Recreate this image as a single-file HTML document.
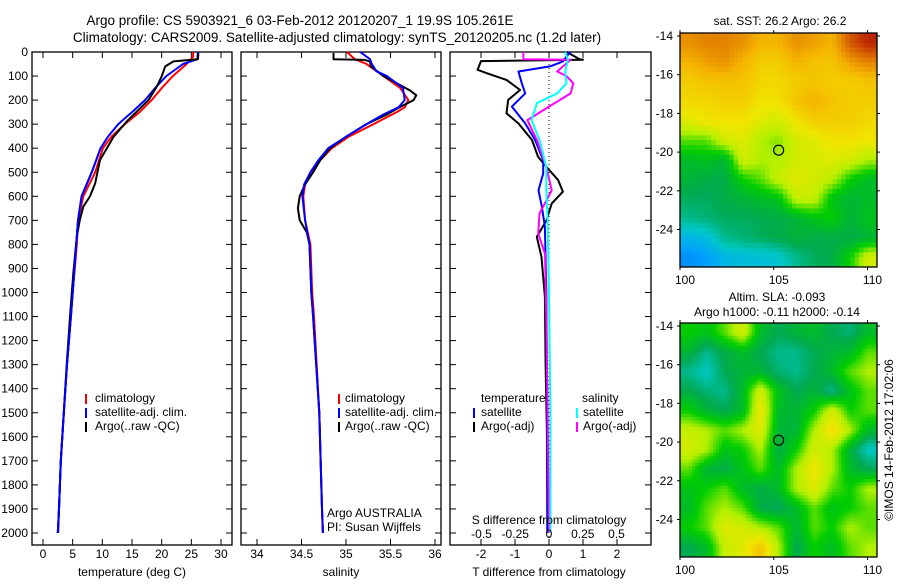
<!DOCTYPE html>
<html><head><meta charset="utf-8"><style>
body{margin:0;background:#fff;width:900px;height:580px;overflow:hidden}
svg{font-family:"Liberation Sans",sans-serif;font-size:12px}
</style></head><body>
<svg id="s" width="900" height="580" xmlns="http://www.w3.org/2000/svg">
<text x="300" y="25" text-anchor="middle" font-size="13.5">Argo profile: CS 5903921_6 03-Feb-2012 20120207_1 19.9S 105.261E</text>
<text x="337" y="42" text-anchor="middle" font-size="13.5">Climatology: CARS2009. Satellite-adjusted climatology: synTS_20120205.nc (1.2d later)</text>
<g id="g"></g>
</svg>
<script>
// ---- data ----
const depthTicks=[0,100,200,300,400,500,600,700,800,900,1000,1100,1200,1300,1400,1500,1600,1700,1800,1900,2000];
const tempTicks=[0,5,10,15,20,25,30];
const salTicks=[34,34.5,35,35.5,36];
const salTickLabels=["34","34.5","35","35.5","36"];
const tdTicks=[-2,-1,0,1,2];
const sdTicks=[-0.5,-0.25,0,0.25,0.5];
const sdTickLabels=["-0.5","-0.25","0","0.25","0.5"];
const tArgoD=[4,30,39,60,101,143,199,289,352,449,546,601,643,699,768,921,1101,1300,1500,1700,1900,2000];
const tArgoV=[26.2,26.1,22.0,20.6,20.0,19.2,17.8,14.1,11.9,9.6,8.8,7.9,6.8,6.2,5.7,5.1,4.55,4.0,3.5,3.0,2.7,2.55];
const tClimD=[0,20,50,100,150,200,250,300,350,400,500,600,700,800,1000,1100,1300,1500,1700,1900,2000];
const tClimV=[25.3,25.3,24.2,21.9,20.0,18.3,16.3,13.8,11.6,10.1,8.8,6.8,5.9,5.7,5.0,4.7,4.05,3.5,3.0,2.7,2.5];
const tSatD=[0,30,50,100,150,200,250,300,350,400,500,600,700,800,1000,1100,1300,1500,1700,1900,2000];
const tSatV=[26.1,26.0,23.6,20.8,18.9,17.2,15.0,12.7,11.0,9.7,8.2,6.5,5.9,5.6,5.0,4.7,4.05,3.5,3.0,2.7,2.5];
const sArgoD=[4,30,33,40,60,100,130,160,180,200,230,260,300,350,400,450,500,550,600,650,700,750,800,1000,1100,1500,1900,2000];
const sArgoV=[34.86,34.86,35.21,35.27,35.28,35.42,35.57,35.72,35.79,35.76,35.6,35.46,35.23,35.01,34.82,34.71,34.63,34.54,34.48,34.46,34.48,34.56,34.59,34.61,34.63,34.7,34.73,34.74];
const sClimD=[0,30,50,100,150,200,230,250,300,350,400,450,500,550,600,700,800,1000,1100,1500,1900,2000];
const sClimV=[35.01,35.1,35.23,35.42,35.61,35.7,35.66,35.57,35.31,35.04,34.84,34.71,34.6,34.54,34.52,34.54,34.6,34.62,34.64,34.7,34.73,34.74];
const sSatD=[0,30,50,80,100,150,200,230,260,300,350,400,450,500,550,600,700,800,1000,1100,1500,1900,2000];
const sSatV=[35.16,35.27,35.29,35.34,35.46,35.64,35.66,35.59,35.42,35.23,35.01,34.8,34.69,34.6,34.53,34.51,34.54,34.59,34.61,34.63,34.7,34.73,34.74];
const dTArgoD=[0,30,32,38,74,88,116,158,199,255,297,366,436,478,533,581,630,699,769,852,1019,1300,1600,2000];
const dTArgoV=[0.52,0.9,1.0,-2.0,-2.1,-1.83,-1.25,-0.85,-1.2,-1.25,-0.9,-0.5,-0.32,-0.07,0.27,0.41,0.08,-0.07,-0.36,-0.22,-0.12,-0.1,-0.06,-0.05];
const dTSatD=[0,40,60,81,130,172,227,297,366,450,505,575,644,727,1000,1500,2000];
const dTSatV=[0.62,0.4,0.03,-0.9,-0.8,-0.7,-1.09,-0.7,-0.41,-0.17,-0.17,-0.31,-0.21,-0.12,-0.08,-0.05,-0.04];
const dSArgoD=[0,30,32,81,100,130,172,227,283,366,478,575,672,755,838,1100,1500,2000];
const dSArgoV=[-0.19,-0.19,0.16,0.06,0.13,0.18,0.16,0.0,-0.16,-0.09,-0.02,0.02,-0.07,-0.08,-0.03,-0.02,-0.01,0.0];
const dSSatD=[0,32,81,130,172,213,283,366,478,575,700,1000,1500,2000];
const dSSatV=[0.12,0.14,0.12,0.13,0.06,-0.09,-0.13,-0.07,-0.02,-0.02,-0.01,0.0,0.01,0.01];
const sstGrid=[
[.8,.82,.82,.8,.75,.75,.8,.78,.75,.88,.95],
[.75,.78,.8,.75,.7,.7,.75,.72,.72,.78,.82],
[.7,.72,.72,.72,.68,.68,.7,.72,.7,.7,.72],
[.68,.68,.7,.7,.66,.66,.72,.75,.72,.7,.7],
[.62,.66,.66,.66,.62,.6,.66,.7,.7,.7,.68],
[.5,.5,.6,.62,.55,.52,.6,.62,.66,.66,.65],
[.4,.42,.38,.6,.55,.55,.6,.6,.62,.6,.55],
[.38,.36,.36,.45,.5,.58,.62,.6,.56,.45,.4],
[.34,.34,.36,.38,.4,.42,.58,.58,.42,.38,.4],
[.3,.32,.34,.34,.35,.36,.38,.42,.45,.38,.42],
[.2,.22,.3,.32,.34,.36,.38,.36,.36,.36,.38],
[.12,.15,.2,.22,.22,.24,.3,.34,.36,.45,.6]];
const slaGrid=[
[.45,.42,.5,.6,.4,.35,.38,.4,.35,.32,.4],
[.38,.3,.36,.4,.35,.3,.3,.35,.38,.4,.5],
[.3,.25,.35,.38,.38,.32,.3,.35,.4,.5,.55],
[.36,.32,.3,.4,.6,.42,.35,.38,.3,.42,.5],
[.45,.38,.35,.4,.65,.4,.38,.45,.6,.45,.5],
[.58,.55,.5,.55,.62,.38,.38,.55,.68,.55,.4],
[.6,.55,.42,.45,.55,.36,.45,.6,.55,.38,.25],
[.5,.38,.36,.42,.5,.4,.55,.65,.55,.4,.35],
[.42,.45,.5,.4,.36,.4,.55,.62,.5,.45,.55],
[.4,.5,.55,.5,.36,.34,.4,.5,.42,.45,.5],
[.45,.5,.62,.6,.55,.5,.38,.5,.45,.55,.5],
[.35,.4,.58,.62,.72,.55,.35,.45,.4,.5,.55]];
const latTicks=[-14,-16,-18,-20,-22,-24];
const lonTicks=[100,105,110];
const argoLon=105.261, argoLat=-19.9;

// ---- drawing ----
const NS='http://www.w3.org/2000/svg';
const G=document.getElementById('g');
function mk(tag,at,parent){const e=document.createElementNS(NS,tag);for(const k in at)e.setAttribute(k,at[k]);(parent||G).appendChild(e);return e;}
const top0=52, bot=545;
const yD=d=>top0+d*0.2405;
function panel(x0,x1,name){
  const r=mk('rect',{x:x0,y:top0,width:x1-x0,height:bot-top0,fill:'none',stroke:'#000','stroke-width':1.3});
  
  
  depthTicks.forEach(d=>{
    const l1=mk('line',{x1:x0,x2:x0+6,y1:yD(d),y2:yD(d),stroke:'#000'});
    
    
    const l2=mk('line',{x1:x1-6,x2:x1,y1:yD(d),y2:yD(d),stroke:'#000'});
    
    
  });
}
function xticks(vals,labels,sx,x0,x1,ylab){
  vals.forEach((v,i)=>{
    const x=sx(v);
    const a=mk('line',{x1:x,x2:x,y1:bot,y2:bot-6,stroke:'#000'});
    
    
    const b=mk('line',{x1:x,x2:x,y1:top0,y2:top0+6,stroke:'#000'});
    
    
    const t=mk('text',{x:x,y:ylab,'text-anchor':'middle'});t.textContent=labels[i];
    
    
  });
}
function line(D,V,sx,col,name,w){
  const p=D.map((d,i)=>sx(V[i]).toFixed(1)+','+yD(d).toFixed(1)).join(' ');
  const e=mk('polyline',{points:p,fill:'none',stroke:col,'stroke-width':w||2,'stroke-linejoin':'round'});
  
  
}
function txt(x,y,s,name,anchor,extra){
  const t=mk('text',Object.assign({x:x,y:y,'text-anchor':anchor||'start'},extra||{}));t.textContent=s;
  
  return t;
}
function legTick(x,y,col){
  const e=mk('line',{x1:x,x2:x,y1:y-9,y2:y+1,stroke:col,'stroke-width':2});
  
  
}
// panel 1
const sxT=v=>43+v*5.933;
panel(32,232,'temperature-panel');
depthTicks.forEach(d=>txt(28,yD(d)+4,String(d),'depth-tick-label','end'));
xticks(tempTicks,tempTicks.map(String),sxT,32,232,558);
line(tClimD,tClimV,sxT,'#f00','temp-climatology-line');
line(tSatD,tSatV,sxT,'#00f','temp-satellite-line');
line(tArgoD,tArgoV,sxT,'#000','temp-argo-line');
line(tSatD.slice(9),tSatV.slice(9),sxT,'#00f','temp-satellite-deep-line');
txt(132,576,'temperature (deg C)','temperature-axis-title','middle');
legTick(86,403,'#f00');txt(95,402,'climatology','legend-climatology');
legTick(86,417,'#00f');txt(95,416,'satellite-adj. clim.','legend-satellite');
legTick(86,431,'#000');txt(95,430,'Argo(..raw -QC)','legend-argo');
// panel 2
const sxS=v=>257+(v-34)*89;
panel(241,441,'salinity-panel');
xticks(salTicks,salTickLabels,sxS,241,441,558);
line(sClimD,sClimV,sxS,'#f00','sal-climatology-line');
line(sArgoD,sArgoV,sxS,'#000','sal-argo-line');
line(sSatD,sSatV,sxS,'#00f','sal-satellite-line');
txt(341,576,'salinity','salinity-axis-title','middle');
legTick(339,403,'#f00');txt(345,402,'climatology','legend-climatology');
legTick(339,417,'#00f');txt(345,416,'satellite-adj. clim.','legend-satellite');
legTick(339,431,'#000');txt(345,430,'Argo(..raw -QC)','legend-argo');
txt(327,517,'Argo AUSTRALIA','argo-program-label');
txt(327,531,'PI: Susan Wijffels','pi-label');
// panel 3
const sxDT=v=>549+v*34;
const sxDS=v=>549+v*135;
panel(450,651,'difference-panel');
xticks(tdTicks,tdTicks.map(String),sxDT,450,651,558);
const z=mk('line',{x1:549,x2:549,y1:top0,y2:bot,stroke:'#000','stroke-dasharray':'1,3'});


line(dTArgoD,dTArgoV,sxDT,'#000','tdiff-argo-line');
line(dTSatD,dTSatV,sxDT,'#00f','tdiff-satellite-line');
line(dSArgoD,dSArgoV,sxDS,'#f0f','sdiff-argo-line');
line(dSSatD,dSSatV,sxDS,'#0ff','sdiff-satellite-line');
txt(549,576,'T difference from climatology','tdiff-axis-title','middle');
txt(549,524,'S difference from climatology','sdiff-axis-title','middle');
sdTicks.forEach((v,i)=>txt(sxDS(v),538,sdTickLabels[i],'sdiff-tick-label','middle'));
txt(481,402,'temperature','legend-temperature-header');
legTick(474,417,'#00f');txt(481,416,'satellite','legend-t-satellite');
legTick(474,431,'#000');txt(481,430,'Argo(-adj)','legend-t-argo');
txt(582,402,'salinity','legend-salinity-header');
legTick(577,417,'#0ff');txt(583,416,'satellite','legend-s-satellite');
legTick(577,431,'#f0f');txt(583,430,'Argo(-adj)','legend-s-argo');
// maps
const stops=[[0,[0,80,220]],[.15,[0,160,255]],[.25,[0,200,200]],[.35,[0,170,80]],[.45,[0,205,0]],[.55,[180,240,0]],[.65,[240,230,0]],[.75,[245,180,0]],[.85,[220,110,0]],[1,[170,0,0]]];
function cmap(v){for(let i=1;i<stops.length;i++){if(v<=stops[i][0]){const a=stops[i-1],b=stops[i],t=(v-a[0])/(b[0]-a[0]);return 'rgb('+a[1].map((c,k)=>Math.round(c+(b[1][k]-c)*t)).join(',')+')';}}return 'rgb(170,0,0)';}
function sample(grid,fr,fc){
  const R=grid.length,C=grid[0].length;
  fr=Math.max(0,Math.min(R-1,fr));fc=Math.max(0,Math.min(C-1,fc));
  const r0=Math.floor(fr),c0=Math.floor(fc),r1=Math.min(R-1,r0+1),c1=Math.min(C-1,c0+1),tr=fr-r0,tc=fc-c0;
  return (grid[r0][c0]*(1-tc)+grid[r0][c1]*tc)*(1-tr)+(grid[r1][c0]*(1-tc)+grid[r1][c1]*tc)*tr;
}
function map(yTop,grid,name,sub){
  const x0=680,x1=877,y0=yTop-3,y1=yTop+231;
  const lx=v=>680+(v-100)*18.75, ly=v=>yTop+(-14-v)*19.35;
  const rows=grid.length*sub,cols=grid[0].length*sub,cw=(x1-x0)/cols,ch=(y1-y0)/rows;
  for(let r=0;r<rows;r++)for(let c=0;c<cols;c++){
    const v=sample(grid,(r+0.5)/sub-0.5,(c+0.5)/sub-0.5);
    const e=mk('rect',{x:(x0+c*cw).toFixed(2),y:(y0+r*ch).toFixed(2),width:(cw+0.5).toFixed(2),height:(ch+0.5).toFixed(2),fill:cmap(v)});
    
    
  }
  const f=mk('rect',{x:x0,y:y0,width:x1-x0,height:y1-y0,fill:'none',stroke:'#000','stroke-width':1.3});
  
  
  latTicks.forEach(v=>{txt(673,ly(v)+4,String(v),'lat-tick-label','end');
    const a=mk('line',{x1:x0-3,x2:x0,y1:ly(v),y2:ly(v),stroke:'#000'});
    
    
    const b=mk('line',{x1:x1,x2:x1+3,y1:ly(v),y2:ly(v),stroke:'#000'});
    
    });
  lonTicks.forEach(v=>{txt(lx(v)+5,y1+17,String(v),'lon-tick-label','middle');
    const a=mk('line',{x1:lx(v),x2:lx(v),y1:y1,y2:y1+3,stroke:'#000'});
    
    
    const b=mk('line',{x1:lx(v),x2:lx(v),y1:y0-3,y2:y0,stroke:'#000'});
    
    });
  const c=mk('circle',{cx:lx(argoLon),cy:ly(argoLat),r:5,fill:'none',stroke:'#000','stroke-width':1.2});
  
  
}
map(36,sstGrid,'sst-map',4);
txt(780,25,'sat. SST: 26.2 Argo: 26.2','sst-map-title','middle');
map(326,slaGrid,'sla-map',6);
txt(777,301,'Altim. SLA: -0.093','sla-map-title','middle');
txt(777,316,'Argo h1000: -0.11 h2000: -0.14','sla-map-subtitle','middle');
txt(0,0,'©IMOS 14-Feb-2012 17:02:06','imos-credit','middle',{transform:'translate(893,440) rotate(-90)'});
</script>
</body></html>
